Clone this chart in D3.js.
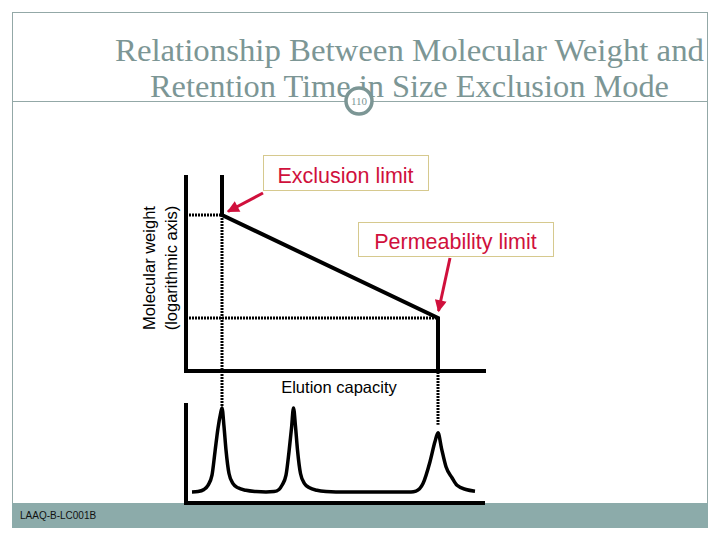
<!DOCTYPE html>
<html>
<head>
<meta charset="utf-8">
<script src="https://cdn.jsdelivr.net/npm/d3@7/dist/d3.min.js"></script>
<style>
  html, body { margin: 0; padding: 0; background: #ffffff; }
  svg { display: block; }
</style>
</head>
<body>
<svg id="chart" width="720" height="540"></svg>
<script>
// ---------------- DATA ----------------
const titleLines = ["Relationship Between Molecular Weight and", "Retention Time in Size Exclusion Mode"];
const slideNumber = "110";
const footerText = "LAAQ-B-LC001B";
const yAxisLabel = ["Molecular weight", "(logarithmic axis)"];
const xAxisLabel = "Elution capacity";

// calibration points (elution volume, molecular weight)
const limitNames = ["Exclusion limit", "Permeability limit"];
const limitVolume = [3.6, 25.2];
const limitMW = [1e6, 1e3];

// chromatogram peaks
const peakVolume = [3.6, 10.75, 25.2];
const peakHeight = [1.0, 1.0, 0.706];

// chromatogram trace
const signalVolume = [0.6, 1.2, 1.8, 2.2, 2.6, 2.9, 3.2, 3.45, 3.6, 3.8, 4.0, 4.3, 4.7, 5.2, 6.0, 7.0, 8.0,
  8.8, 9.3, 9.6, 10.0, 10.3, 10.55, 10.75, 10.95, 11.15, 11.45, 11.85, 12.35, 13.1, 14.0, 15.0,
  22.5, 23.0, 23.7, 24.4, 24.9, 25.2, 25.55, 26.0, 26.6, 27.1, 28.0, 28.9];
const signalIntensity = [0, 0.005, 0.03, 0.08, 0.2, 0.48, 0.76, 0.93, 1.0, 0.78, 0.5, 0.22, 0.1, 0.05, 0.02, 0.005, 0,
  0.005, 0.03, 0.08, 0.2, 0.48, 0.76, 1.0, 0.78, 0.5, 0.22, 0.1, 0.05, 0.02, 0.005, 0,
  0, 0.01, 0.1, 0.36, 0.6, 0.706, 0.52, 0.3, 0.17, 0.08, 0.03, 0.01];

const volumeDomain = [0, 30];
const mwDomain = [Math.pow(10, 1.456), Math.pow(10, 7.165)];
const intensityDomain = [-0.131, 1.06];

// ---------------- DRAW ----------------
const svg = d3.select("#chart");
const grey = "#7c9695";
const red = "#d0103c";

const x = d3.scaleLinear().domain(volumeDomain).range([186, 486]);
const y = d3.scaleLog().domain(mwDomain).range([371, 175]);
const yc = d3.scaleLinear().domain([0, 1]).range([492, 408]);

// slide frame
svg.append("rect").attr("x", 12.5).attr("y", 12.5).attr("width", 695).attr("height", 515)
  .attr("fill", "none").attr("stroke", "#93a8a7").attr("stroke-width", 1);

// footer band
svg.append("rect").attr("x", 12).attr("y", 503).attr("width", 696).attr("height", 25).attr("fill", "#8cabaa");
svg.append("text").attr("x", 20).attr("y", 519).attr("font-family", "Liberation Sans, Arial, sans-serif")
  .attr("font-size", 10).attr("fill", "#111").text(footerText);

// title
const titleY = [61, 97];
const titleX = [[115, 704], [150, 669]];
titleLines.forEach((t, i) => {
  svg.append("text")
    .attr("x", titleX[i][0]).attr("y", titleY[i])
    .attr("font-family", "Liberation Serif, Times New Roman, serif")
    .attr("font-size", 31).attr("fill", grey)
    .attr("textLength", titleX[i][1] - titleX[i][0]).attr("lengthAdjust", "spacingAndGlyphs")
    .text(t);
});
svg.append("line").attr("x1", 12).attr("x2", 708).attr("y1", 101.5).attr("y2", 101.5)
  .attr("stroke", "#93a8a7").attr("stroke-width", 1);
svg.append("circle").attr("cx", 359).attr("cy", 101).attr("r", 13)
  .attr("fill", "#fff").attr("stroke", grey).attr("stroke-width", 3.5);
svg.append("text").attr("x", 359).attr("y", 105).attr("text-anchor", "middle")
  .attr("font-family", "Liberation Serif, serif").attr("font-size", 11).attr("fill", grey).text(slideNumber);

// ---- upper chart: calibration curve ----
const mwMin = mwDomain[0], mwMax = mwDomain[1];
const dotted = { stroke: "#000", "stroke-width": 3, "stroke-dasharray": "2,1" };
function dline(x1, y1, x2, y2) {
  const l = svg.append("line").attr("x1", x1).attr("y1", y1).attr("x2", x2).attr("y2", y2);
  Object.entries(dotted).forEach(([k, v]) => l.attr(k, v));
}
// dotted guides
dline(x(0) + 3, y(limitMW[0]), x(limitVolume[0]), y(limitMW[0]));
dline(x(0) + 3, y(limitMW[1]), x(limitVolume[1]), y(limitMW[1]));
dline(x(limitVolume[0]), y(limitMW[0]), x(limitVolume[0]), yc(peakHeight[0]) - 2);
dline(x(limitVolume[1]), y(limitMW[1]), x(limitVolume[1]), yc(peakHeight[2]) - 8);

// axes
svg.append("path")
  .attr("d", d3.line()([[x(0), y(mwMax)], [x(0), y(mwMin)], [x(volumeDomain[1]), y(mwMin)]]))
  .attr("fill", "none").attr("stroke", "#000").attr("stroke-width", 4).attr("stroke-linejoin", "miter");
// calibration line
const calib = [[limitVolume[0], mwMax], [limitVolume[0], limitMW[0]], [limitVolume[1], limitMW[1]], [limitVolume[1], mwMin]];
svg.append("path")
  .attr("d", d3.line().x(d => x(d[0])).y(d => y(d[1]))(calib))
  .attr("fill", "none").attr("stroke", "#000").attr("stroke-width", 4).attr("stroke-linejoin", "miter");

// y label
const yl = svg.append("text").attr("transform", "translate(155,268) rotate(-90)")
  .attr("text-anchor", "middle").attr("font-family", "Liberation Sans, Arial, sans-serif")
  .attr("font-size", 16.5).attr("fill", "#000");
yl.append("tspan").attr("x", 0).attr("y", 0).text(yAxisLabel[0]);
yl.append("tspan").attr("x", 0).attr("y", 22).text(yAxisLabel[1]);

// x label
svg.append("text").attr("x", 339).attr("y", 393).attr("text-anchor", "middle")
  .attr("font-family", "Liberation Sans, Arial, sans-serif").attr("font-size", 16.5).attr("fill", "#000")
  .text(xAxisLabel);

// callouts
svg.append("defs").append("marker").attr("id", "ah").attr("viewBox", "0 0 10 10")
  .attr("refX", 9).attr("refY", 5).attr("markerWidth", 4.5).attr("markerHeight", 4)
  .attr("markerUnits", "strokeWidth").attr("orient", "auto")
  .append("path").attr("d", "M0,0 L10,5 L0,10 Z").attr("fill", red);

const boxes = [
  { x: 263, y: 155, w: 165, h: 35, tx: 345.5, ty: 183, a: [263, 193, 228, 211.5] },
  { x: 358, y: 222, w: 195, h: 34, tx: 455.5, ty: 249, a: [450, 258, 438.5, 311] }
];
limitNames.forEach((name, i) => {
  const b = boxes[i];
  svg.append("rect").attr("x", b.x + 0.5).attr("y", b.y + 0.5).attr("width", b.w).attr("height", b.h)
    .attr("fill", "#fff").attr("stroke", "#d6c98e").attr("stroke-width", 1);
  svg.append("text").attr("x", b.tx).attr("y", b.ty).attr("text-anchor", "middle")
    .attr("font-family", "Liberation Sans, Arial, sans-serif").attr("font-size", 21.5).attr("fill", red)
    .text(name);
  svg.append("line").attr("x1", b.a[0]).attr("y1", b.a[1]).attr("x2", b.a[2]).attr("y2", b.a[3])
    .attr("stroke", red).attr("stroke-width", 3).attr("marker-end", "url(#ah)");
});

// ---- lower chart: chromatogram ----
svg.append("path")
  .attr("d", d3.line()([[x(0), yc(intensityDomain[1])], [x(0), yc(intensityDomain[0])], [x(volumeDomain[1]) - 1, yc(intensityDomain[0])]]))
  .attr("fill", "none").attr("stroke", "#000").attr("stroke-width", 4).attr("stroke-linejoin", "miter");

const signal = signalVolume.map((v, i) => [v, signalIntensity[i]]);
svg.append("path")
  .datum(signal)
  .attr("d", d3.line().x(d => x(d[0])).y(d => yc(d[1])).curve(d3.curveMonotoneX))
  .attr("fill", "none").attr("stroke", "#000").attr("stroke-width", 3.5).attr("stroke-linejoin", "round");
</script>
</body>
</html>
